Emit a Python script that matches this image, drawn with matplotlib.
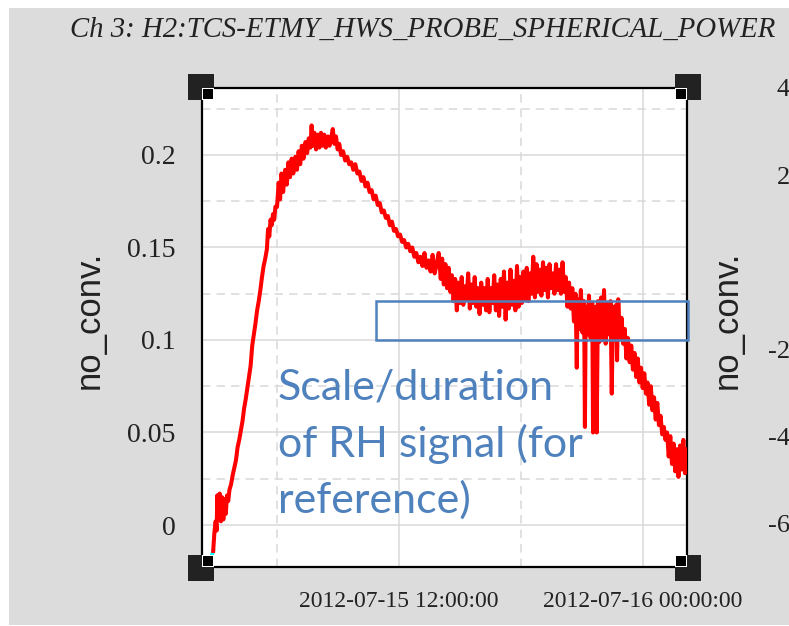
import numpy as np
import pandas as pd
import matplotlib
matplotlib.use("Agg")
import matplotlib.pyplot as plt
import matplotlib.dates as mdates
import matplotlib.transforms as mtransforms
from matplotlib.patches import Rectangle

# hours after 2012-07-15 00:00 and probe value (no_conv.)
hours = [
    2.86, 2.92, 2.98, 3.03, 3.06, 3.12, 3.18, 3.24, 3.30, 3.36, 3.42, 3.48, 3.54, 3.60, 3.66, 3.74,
    3.82, 3.90, 3.98, 4.06, 4.14, 4.22, 4.30, 4.38, 4.46, 4.54, 4.62, 4.70, 4.78, 4.86, 4.94, 5.02,
    5.10, 5.18, 5.26, 5.34, 5.42, 5.50, 5.56, 5.62, 5.68, 5.74, 5.80, 5.86, 5.92,
    6.00, 6.08, 6.15, 6.22, 6.30, 6.40, 6.48, 6.56, 6.64, 6.72, 6.80, 6.90, 6.98, 7.06, 7.14, 7.22,
    7.30, 7.40, 7.48, 7.56, 7.64, 7.70, 7.76, 7.84, 7.92, 8.00, 8.08, 8.16, 8.24, 8.32, 8.40, 8.50,
    8.58, 8.66, 8.74, 8.82, 8.90, 8.98, 9.06, 9.15, 9.25, 9.35, 9.45, 9.55, 9.65, 9.75,
    9.85, 9.95, 10.05, 10.15, 10.25, 10.35, 10.45, 10.55, 10.65, 10.75, 10.85, 10.95, 11.05, 11.15,
    11.25, 11.35, 11.45, 11.55, 11.65, 11.75, 11.85, 11.95, 12.05, 12.15, 12.25, 12.35, 12.45, 12.55,
    12.65, 12.75, 12.85, 12.95, 13.05, 13.15, 13.25, 13.35, 13.45, 13.55, 13.65, 13.75, 13.85,
    13.95, 14.05, 14.12, 14.20, 14.28, 14.36, 14.44, 14.52, 14.60, 14.68, 14.76, 14.84, 14.92, 15.00,
    15.08, 15.16, 15.24, 15.32, 15.40, 15.48, 15.56, 15.64, 15.72, 15.80, 15.88, 15.96, 16.04, 16.12,
    16.20, 16.28, 16.36, 16.44, 16.52, 16.60, 16.68, 16.76, 16.84, 16.92, 17.00, 17.08, 17.16, 17.24,
    17.32, 17.40, 17.48, 17.56, 17.64, 17.72, 17.80, 17.88, 17.96, 18.04, 18.12, 18.20, 18.28, 18.36,
    18.44, 18.52, 18.60, 18.68, 18.76, 18.84, 18.92, 19.00, 19.08, 19.16, 19.24, 19.32, 19.40, 19.48,
    19.56, 19.64, 19.72, 19.80, 19.88, 19.96, 20.04, 20.12, 20.20, 20.28, 20.36, 20.44,
    20.52, 20.60, 20.68, 20.74, 20.78, 20.86, 20.94, 21.02, 21.10, 21.14, 21.18, 21.26, 21.34, 21.42,
    21.50, 21.54, 21.58, 21.62, 21.68, 21.72, 21.78, 21.86, 21.94, 22.02, 22.08, 22.16, 22.24, 22.32,
    22.40, 22.46, 22.52, 22.60, 22.68, 22.72, 22.78, 22.86,
    22.94, 23.02, 23.10, 23.18, 23.26, 23.34, 23.42, 23.50, 23.58, 23.66, 23.74, 23.82, 23.90, 23.98,
    24.06, 24.14, 24.22, 24.30, 24.38, 24.46, 24.54, 24.62, 24.70, 24.78, 24.86, 24.94, 25.02, 25.10,
    25.18, 25.26, 25.34, 25.42, 25.50, 25.58, 25.66, 25.74, 25.82, 25.90, 25.98, 26.06, 26.14, 26.22,
    26.30,
]
probe = [
    -0.014, -0.004, 0.002, -0.003, 0.016, 0.004, 0.017, 0.002, 0.015, 0.003, 0.014, 0.006, 0.016, 0.013, 0.019, 0.022,
    0.027, 0.031, 0.035, 0.042, 0.046, 0.051, 0.056, 0.063, 0.068, 0.074, 0.080, 0.086, 0.097, 0.103, 0.109, 0.116,
    0.121, 0.127, 0.134, 0.140, 0.144, 0.149, 0.160, 0.156, 0.165, 0.162, 0.168, 0.165, 0.172,
    0.172, 0.185, 0.176, 0.190, 0.180, 0.192, 0.184, 0.196, 0.188, 0.198, 0.190, 0.199, 0.192, 0.202, 0.195, 0.205,
    0.198, 0.207, 0.201, 0.209, 0.204, 0.216, 0.205, 0.212, 0.203, 0.211, 0.204, 0.212, 0.205, 0.211, 0.204, 0.210,
    0.205, 0.209, 0.214, 0.206, 0.210, 0.203, 0.206, 0.200, 0.202, 0.197, 0.199, 0.195, 0.196, 0.192,
    0.195, 0.190, 0.191, 0.186, 0.188, 0.183, 0.185, 0.180, 0.181, 0.176, 0.178, 0.173, 0.174, 0.169,
    0.170, 0.166, 0.167, 0.162, 0.164, 0.159, 0.160, 0.156, 0.157, 0.153, 0.154, 0.150, 0.152, 0.148,
    0.150, 0.145, 0.147, 0.142, 0.145, 0.140, 0.147, 0.139, 0.143, 0.137, 0.146, 0.136, 0.141,
    0.147, 0.133, 0.144, 0.130, 0.141, 0.128, 0.139, 0.126, 0.135, 0.121, 0.133, 0.116, 0.131, 0.120,
    0.134, 0.119, 0.129, 0.122, 0.136, 0.117, 0.130, 0.120, 0.134, 0.118, 0.128, 0.114, 0.131, 0.119,
    0.128, 0.116, 0.133, 0.115, 0.128, 0.120, 0.135, 0.116, 0.130, 0.113, 0.133, 0.118, 0.137, 0.111,
    0.131, 0.117, 0.138, 0.119, 0.132, 0.116, 0.140, 0.118, 0.134, 0.120, 0.137, 0.122, 0.139, 0.121,
    0.136, 0.125, 0.145, 0.123, 0.141, 0.126, 0.138, 0.124, 0.142, 0.127, 0.139, 0.123, 0.141, 0.128,
    0.136, 0.125, 0.141, 0.127, 0.138, 0.125, 0.142, 0.126, 0.134, 0.118, 0.131, 0.117,
    0.128, 0.110, 0.125, 0.085, 0.122, 0.106, 0.127, 0.104, 0.121, 0.053, 0.118, 0.103, 0.124, 0.101,
    0.120, 0.050, 0.112, 0.052, 0.118, 0.050, 0.121, 0.099, 0.123, 0.100, 0.127, 0.098, 0.120, 0.103,
    0.121, 0.071, 0.118, 0.100, 0.119, 0.089, 0.122, 0.101,
    0.112, 0.098, 0.106, 0.090, 0.101, 0.088, 0.097, 0.084, 0.093, 0.080, 0.090, 0.077, 0.085, 0.074,
    0.082, 0.071, 0.077, 0.065, 0.075, 0.062, 0.069, 0.057, 0.066, 0.054, 0.059, 0.049, 0.053, 0.046,
    0.050, 0.037, 0.048, 0.033, 0.044, 0.029, 0.041, 0.026, 0.043, 0.030, 0.046, 0.028, 0.041, 0.031,
    0.038,
]
# second channel, only its start is visible in the corner
hours_ch4 = [2.55, 2.70, 2.86]
ch4 = [-0.024, -0.020, -0.014]

left_ticks = [0, 0.05, 0.1, 0.15, 0.2]
left_labels = ["0", "0.05", "0.1", "0.15", "0.2"]
right_ticks = [4, 2, -2, -4, -6]
right_labels = ["4", "2", "-2", "-4", "-6"]

base = pd.Timestamp("2012-07-15")
t = (base + pd.to_timedelta(hours, unit="h")).to_numpy()
t4 = (base + pd.to_timedelta(hours_ch4, unit="h")).to_numpy()
xmin, xmax = base + pd.Timedelta(hours=2.31), base + pd.Timedelta(hours=26.16)

W, H = 789, 626
fig = plt.figure(figsize=(W / 100, H / 100), dpi=100, facecolor="white")
fig.add_artist(Rectangle((9 / W, 1 / H), 1, (625 - 8) / H, transform=fig.transFigure,
                         facecolor="#dcdcdc", edgecolor="none", zorder=-10))

ax = fig.add_axes([202 / W, 1 - 567 / H, 485 / W, 479 / H])
ax.set_facecolor("white")
ax.plot(t4, ch4, color="cyan", lw=2.8, zorder=3)
ax.plot(t, probe, color="#ff0000", lw=2.9, zorder=4)
ax.set_xlim(xmin, xmax)
ax.set_ylim(-0.0227, 0.2362)

ax.xaxis.set_major_locator(mdates.HourLocator(byhour=[0, 12]))
ax.xaxis.set_minor_locator(mdates.HourLocator(byhour=[6, 18]))
ax.xaxis.set_major_formatter(mdates.DateFormatter("%Y-%m-%d %H:%M:%S"))
ax.set_yticks(left_ticks)
ax.set_yticklabels(left_labels)
ax.set_yticks([0.025, 0.075, 0.125, 0.175, 0.225], minor=True)
ax.grid(True, which="major", color="#d9d9d9", lw=1.1, ls="-", zorder=0)
ax.grid(True, which="minor", color="#d9d9d9", lw=1.1, ls=(0, (5.5, 4)), zorder=0)
ax.set_axisbelow(True)
ax.tick_params(which="both", length=0)
ax.tick_params(axis="x", pad=17, labelsize=17, labelcolor="#222222")
ax.tick_params(axis="y", pad=19, labelsize=20, labelcolor="#222222")
for lbl in ax.get_xticklabels() + ax.get_yticklabels():
    lbl.set_family("Liberation Serif")
for sp in ax.spines.values():
    sp.set_linewidth(1.6)
    sp.set_color("black")

ax.set_ylabel("no_conv.", family="Liberation Sans", fontsize=25, color="#222222", va="center")
ax.yaxis.set_label_coords(-0.233, 0.515)

ax2 = ax.twinx()
ax2.set_ylim(-7.0, 4.0)
ax2.set_yticks(right_ticks)
ax2.set_yticklabels(right_labels)
ax2.tick_params(length=0, pad=74, labelsize=19, labelcolor="#222222")
for lbl in ax2.get_yticklabels():
    lbl.set_family("Liberation Serif")
    lbl.set_ha("right")
ax2.set_ylabel("no_conv.", family="Liberation Sans", fontsize=25, color="#222222", va="center")
ax2.yaxis.set_label_coords(1.0825, 0.515)
for sp in ax2.spines.values():
    sp.set_visible(False)

# corner handles
for cx, cy in [(0, 0), (1, 0), (0, 1), (1, 1)]:
    sx = 1 if cx == 0 else -1
    sy = 1 if cy == 0 else -1
    tr = fig.dpi_scale_trans + mtransforms.ScaledTranslation(cx, cy, ax.transAxes)
    for size, inner, col in [(26, 12, "#222222"), (12, 0, "white"), (10, 1, "black")]:
        if col == "#222222":
            x0 = -14 if sx > 0 else -12
            y0 = -14 if sy > 0 else -12
        else:
            x0 = inner if sx > 0 else -inner - size
            y0 = inner if sy > 0 else -inner - size
        fig.add_artist(Rectangle((x0 / 100, y0 / 100), size / 100, size / 100,
                                 transform=tr, facecolor=col, edgecolor="none", zorder=5))

# title
fig.text(70 / W, 1 - 37 / H, "Ch 3: H2:TCS-ETMY_HWS_PROBE_SPHERICAL_POWER",
         family="Liberation Serif", style="italic", fontsize=20.7, color="#222222",
         ha="left", va="baseline")

# blue annotation
blue = "#4f81bd"
fig.add_artist(Rectangle((376 / W, 1 - 340 / H), (688 - 376) / W, 39 / H, transform=fig.transFigure,
                         facecolor="none", edgecolor=blue, lw=1.8, zorder=6))
note_lines = ["Scale/duration", "of RH signal (for", "reference)"]
for i, line in enumerate(note_lines):
    fig.text(278 / W, 1 - (400 + 56.5 * i) / H, line, family="Lato", fontsize=31,
             color=blue, ha="left", va="baseline", zorder=7)

fig.savefig("out.png", dpi=100, facecolor="white")
